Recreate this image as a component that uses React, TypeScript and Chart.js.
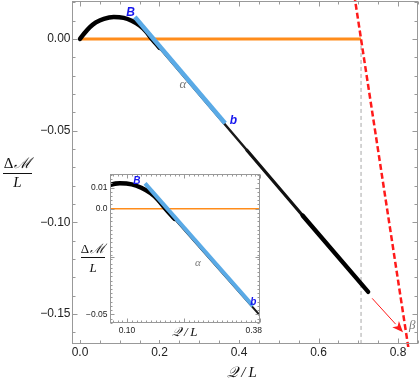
import React, { useEffect, useRef } from "react";
import { Chart, registerables } from "chart.js";

Chart.register(...registerables);

// ---------- data (Q/L , ΔM/L) ----------
const curveQ = [0, 0.01, 0.025, 0.04, 0.06, 0.085, 0.11, 0.13, 0.15, 0.165, 0.181, 0.2];
const curveM = [0, 0.0028, 0.0064, 0.009, 0.011, 0.012, 0.0115, 0.0099, 0.0073, 0.0043, 0, -0.0048];
const midQ = [0.2, 0.42];
const midM = [-0.0048, -0.0607];
const mid2Q = [0.42, 0.56];
const mid2M = [-0.0607, -0.0963];
const tailQ = [0.56, 0.725];
const tailM = [-0.0963, -0.138];
const blueQ = [0.138, 0.365];
const blueM = [0.012, -0.046];
const orangeQ = [0, 0.707];
const orangeM = [0, 0];
const vertQ = [0.707, 0.707];
const vertM = [0, -0.2];
const redQ = [0.69, 0.83];
const redM = [0.024, -0.174];
const arrowQ = [0.735, 0.8126];
const arrowM = [-0.1415, -0.16];

const mainXTicks = [0, 0.2, 0.4, 0.6, 0.8];
const mainXTickLabels = ["0.0", "0.2", "0.4", "0.6", "0.8"];
const mainYTicks = [0, -0.05, -0.1, -0.15];
const mainYTickLabels = ["0.00", "\u22120.05", "\u22120.10", "\u22120.15"];

const insetXTicks = [0.1, 0.22, 0.38];
const insetXTickLabels = ["0.10", "", "0.38"];
const insetYTicks = [0.01, 0, -0.023, -0.05];
const insetYTickLabels = ["0.01", "0.0", "", "\u22120.05"];

const mainNotes = [
  { text: "B", q: 0.127, m: 0.0142, kind: "blue" },
  { text: "\u03b1", q: 0.259, m: -0.0251, kind: "grey" },
  { text: "b", q: 0.386, m: -0.0448, kind: "blue" },
  { text: "\u03b2", q: 0.836, m: -0.1565, kind: "grey" },
];
const insetNotes = [
  { text: "B", q: 0.121, m: 0.0131, kind: "blue" },
  { text: "\u03b1", q: 0.249, m: -0.0257, kind: "grey" },
  { text: "b", q: 0.366, m: -0.0442, kind: "blue" },
];

const pts = (xs: number[], ys: number[]) => xs.map((x, i) => ({ x, y: ys[i] }));

function lineDs(data: any, color: string, width: number, order: number, extra: any = {}) {
  return {
    data,
    borderColor: color,
    borderWidth: width,
    pointRadius: 0,
    pointHoverRadius: 0,
    fill: false,
    tension: 0,
    order,
    borderCapStyle: "round",
    borderJoinStyle: "round",
    ...extra,
  };
}

function decoPlugin(cfg: any) {
  return {
    id: "deco_" + cfg.name,
    beforeDraw(chart: any) {
      if (!cfg.bg) return;
      const ctx = chart.ctx;
      ctx.save();
      ctx.fillStyle = "#ffffff";
      ctx.fillRect(0, 0, chart.width, chart.height);
      ctx.restore();
    },
    afterDatasetsDraw(chart: any) {
      const { ctx, chartArea: a, scales } = chart;
      const xs = scales.x;
      const ys = scales.y;
      const L = Math.round(a.left) + 0.5;
      const T = Math.round(a.top) + 0.5;
      const R = Math.round(a.right) - 0.5;
      const B = Math.round(a.bottom) - 0.5;
      ctx.save();
      // frame
      ctx.strokeStyle = cfg.frameColor;
      ctx.lineWidth = 1;
      ctx.strokeRect(L, T, R - L, B - T);
      // ticks
      const isMajor = (v: number, arr: number[], step: number) => arr.some((m) => Math.abs(m - v) < step * 0.05);
      ctx.beginPath();
      const xt = (v: number, len: number) => {
        const p = Math.round(xs.getPixelForValue(v)) + 0.5;
        ctx.moveTo(p, B);
        ctx.lineTo(p, B - len);
        ctx.moveTo(p, T);
        ctx.lineTo(p, T + len);
      };
      const yt = (v: number, len: number) => {
        const p = Math.round(ys.getPixelForValue(v)) + 0.5;
        ctx.moveTo(L, p);
        ctx.lineTo(L + len, p);
        ctx.moveTo(R, p);
        ctx.lineTo(R - len, p);
      };
      cfg.xTicks.forEach((v: number) => xt(v, cfg.major));
      cfg.yTicks.forEach((v: number) => yt(v, cfg.major));
      for (let k = Math.ceil(xs.min / cfg.xMinor); k * cfg.xMinor <= xs.max; k++) {
        const v = k * cfg.xMinor;
        if (!isMajor(v, cfg.xTicks, cfg.xMinor)) xt(v, cfg.minor);
      }
      for (let k = Math.ceil(ys.min / cfg.yMinor); k * cfg.yMinor <= ys.max; k++) {
        const v = k * cfg.yMinor;
        if (!isMajor(v, cfg.yTicks, cfg.yMinor)) yt(v, cfg.minor);
      }
      ctx.stroke();
      // tick labels
      ctx.font = cfg.tickFont;
      ctx.fillStyle = cfg.tickColor;
      ctx.textBaseline = "middle";
      ctx.textAlign = "center";
      cfg.xTicks.forEach((v: number, i: number) => {
        const t = cfg.xLabels[i];
        if (!t) return;
        const w = ctx.measureText(t).width;
        let cx = xs.getPixelForValue(v);
        if (cx + w / 2 > a.right + cfg.clampPad) cx = a.right + cfg.clampPad - w / 2;
        ctx.fillText(t, cx, B + cfg.xLabelDy);
      });
      ctx.textAlign = "right";
      cfg.yTicks.forEach((v: number, i: number) => {
        const t = cfg.yLabels[i];
        if (!t) return;
        ctx.fillText(t, L - cfg.yLabelDx, ys.getPixelForValue(v));
      });
      // annotations
      ctx.textAlign = "center";
      cfg.notes.forEach((n: any) => {
        ctx.font = n.kind === "blue" ? cfg.blueFont : cfg.greyFont;
        ctx.fillStyle = n.kind === "blue" ? "#1515ee" : "#7a7a7a";
        ctx.fillText(n.text, xs.getPixelForValue(n.q), ys.getPixelForValue(n.m));
      });
      // arrow
      if (cfg.arrow) {
        const x0 = xs.getPixelForValue(arrowQ[0]);
        const y0 = ys.getPixelForValue(arrowM[0]);
        const x1 = xs.getPixelForValue(arrowQ[1]);
        const y1 = ys.getPixelForValue(arrowM[1]);
        const ang = Math.atan2(y1 - y0, x1 - x0);
        const hl = 11;
        const hw = 4.5;
        const bx = x1 - hl * Math.cos(ang);
        const by = y1 - hl * Math.sin(ang);
        ctx.strokeStyle = "#ff1a1a";
        ctx.fillStyle = "#ff1a1a";
        ctx.lineWidth = 1;
        ctx.beginPath();
        ctx.moveTo(x0, y0);
        ctx.lineTo(bx, by);
        ctx.stroke();
        ctx.beginPath();
        ctx.moveTo(x1, y1);
        ctx.lineTo(bx + hw * Math.sin(ang), by - hw * Math.cos(ang));
        ctx.lineTo(bx + 3 * Math.cos(ang), by + 3 * Math.sin(ang));
        ctx.lineTo(bx - hw * Math.sin(ang), by + hw * Math.cos(ang));
        ctx.closePath();
        ctx.fill();
      }
      // axis titles
      const yt2 = cfg.yTitle;
      ctx.fillStyle = "#111";
      ctx.textBaseline = "alphabetic";
      ctx.font = yt2.upFont;
      const wD = ctx.measureText("\u0394").width;
      ctx.font = yt2.font;
      const wM = ctx.measureText("\u2133").width;
      const x0t = yt2.x - (wD + wM + 1) / 2;
      ctx.textAlign = "left";
      ctx.font = yt2.upFont;
      ctx.fillText("\u0394", x0t, yt2.numBase);
      ctx.font = yt2.font;
      ctx.fillText("\u2133", x0t + wD + 1, yt2.numBase);
      ctx.textAlign = "center";
      ctx.fillText("L", yt2.x, yt2.denBase);
      ctx.strokeStyle = "#111";
      ctx.lineWidth = 1;
      ctx.beginPath();
      ctx.moveTo(yt2.x - yt2.half, yt2.line + 0.5);
      ctx.lineTo(yt2.x + yt2.half, yt2.line + 0.5);
      ctx.stroke();
      const xt2 = cfg.xTitle;
      ctx.font = xt2.font;
      ctx.textBaseline = "middle";
      ctx.fillText("\ud835\udcac\u2009/\u2009L", xt2.x, xt2.y);
      ctx.restore();
    },
  };
}

function buildDatasets(inset: boolean) {
  const clip = inset ? 0 : 3;
  return [
    lineDs(pts(blueQ, blueM), "#5aaae6", inset ? 4 : 4.5, 0, { borderCapStyle: "butt", clip }),
    lineDs(pts(curveQ, curveM), "#000000", 4.5, 1, { cubicInterpolationMode: "monotone", clip }),
    lineDs(pts(midQ, midM), "#1a1a1a", inset ? 2 : 2.5, 2, { clip }),
    lineDs(pts(mid2Q, mid2M), "#111111", inset ? 2 : 3.2, 2, { clip }),
    lineDs(pts(tailQ, tailM), "#000000", inset ? 2 : 4.3, 1, { clip }),
    lineDs(pts(redQ, redM), "#ff1a1a", 2.5, 3, { borderDash: [6, 3], borderCapStyle: "butt", clip }),
    lineDs(pts(orangeQ, orangeM), "#ff8c1a", inset ? 1.5 : 3, 5, { borderCapStyle: "butt", clip }),
    lineDs(pts(vertQ, vertM), "#a8a8a8", 1, 6, { borderDash: [4, 3], borderCapStyle: "butt", clip }),
  ];
}

function makeConfig(inset: boolean): any {
  const deco = inset
    ? {
        name: "inset",
        bg: true,
        xTicks: insetXTicks,
        xLabels: insetXTickLabels,
        yTicks: insetYTicks,
        yLabels: insetYTickLabels,
        xMinor: 0.01,
        yMinor: 0.002,
        major: 4,
        minor: 2,
        tickFont: "8.5px 'Liberation Sans', Arial, sans-serif",
        tickColor: "#222",
        xLabelDy: 8,
        yLabelDx: 3,
        clampPad: 2,
        frameColor: "#999",
        notes: insetNotes,
        blueFont: "bold italic 10px 'Liberation Sans', Arial, sans-serif",
        greyFont: "italic 11px 'Liberation Serif', serif",
        arrow: false,
        yTitle: { x: 15, numBase: 83, line: 87, denBase: 102, half: 12, font: "italic 13px 'Liberation Serif', serif", upFont: "13px 'Liberation Serif', serif" },
        xTitle: { x: 107, y: 163, font: "italic 13px 'Liberation Serif', serif" },
      }
    : {
        name: "main",
        bg: false,
        xTicks: mainXTicks,
        xLabels: mainXTickLabels,
        yTicks: mainYTicks,
        yLabels: mainYTickLabels,
        xMinor: 0.05,
        yMinor: 0.01,
        major: 5,
        minor: 3,
        tickFont: "12px 'Liberation Sans', Arial, sans-serif",
        tickColor: "#222",
        xLabelDy: 9,
        yLabelDx: 2,
        clampPad: 20,
        frameColor: "#999",
        notes: mainNotes,
        blueFont: "bold italic 12px 'Liberation Sans', Arial, sans-serif",
        greyFont: "italic 13px 'Liberation Serif', serif",
        arrow: true,
        yTitle: { x: 17.5, numBase: 168, line: 173, denBase: 187, half: 14.5, font: "italic 15px 'Liberation Serif', serif", upFont: "15px 'Liberation Serif', serif" },
        xTitle: { x: 242, y: 373, font: "italic 15px 'Liberation Serif', serif" },
      };
  return {
    type: "line",
    data: { datasets: buildDatasets(inset) },
    options: {
      animation: false,
      responsive: false,
      devicePixelRatio: 1,
      events: [],
      layout: {
        padding: inset ? { left: 32, top: 4, right: 2, bottom: 17 } : { left: 72, top: 1, right: 2, bottom: 41 },
      },
      scales: {
        x: { type: "linear", display: false, min: inset ? 0.0642 : -0.0201, max: inset ? 0.38 : 0.8503 },
        y: { type: "linear", display: false, min: inset ? -0.05412 : -0.1664, max: inset ? 0.01643 : 0.0207 },
      },
      plugins: { legend: { display: false }, tooltip: { enabled: false } },
    },
    plugins: [decoPlugin(deco)],
  };
}

export default function App() {
  const mainRef = useRef<HTMLCanvasElement>(null);
  const insetRef = useRef<HTMLCanvasElement>(null);
  useEffect(() => {
    const c1 = new Chart(mainRef.current as HTMLCanvasElement, makeConfig(false));
    const c2 = new Chart(insetRef.current as HTMLCanvasElement, makeConfig(true));
    return () => {
      c1.destroy();
      c2.destroy();
    };
  }, []);
  return (
    <div style={{ position: "absolute", left: 0, top: 0, width: 420, height: 385, background: "#fff" }}>
      <canvas ref={mainRef} width={420} height={385} style={{ position: "absolute", left: 0, top: 0 }} />
      <canvas ref={insetRef} width={184} height={170} style={{ position: "absolute", left: 78, top: 170 }} />
    </div>
  );
}
